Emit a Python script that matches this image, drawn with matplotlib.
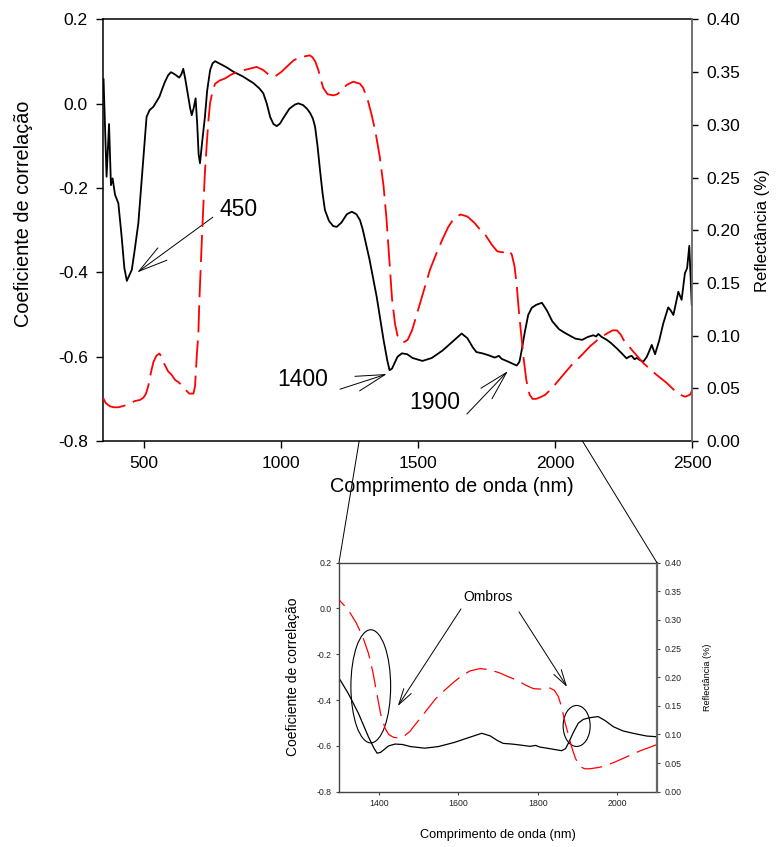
import matplotlib
matplotlib.use('Agg')
import matplotlib.pyplot as plt
from matplotlib.patches import Ellipse, ConnectionPatch
from matplotlib.ticker import FormatStrFormatter

plt.rcParams['font.family'] = ['Liberation Sans', 'DejaVu Sans']
plt.rcParams['axes.unicode_minus'] = False

# correlation coefficient (left axis)
wl_corr = [352, 363, 372, 379, 385, 394, 406, 418, 428, 437, 455, 465, 479, 495, 509, 520,
           534, 556, 566, 576, 588, 598, 612, 628, 636, 643, 650, 661, 668, 674, 681, 688,
           694, 699, 704, 712, 722, 730, 741, 750, 759, 800, 826, 860, 899, 920, 935, 948,
           960, 972, 984, 996, 1008, 1030, 1050, 1063, 1080, 1095, 1106, 1116, 1124, 1133,
           1142, 1151, 1160, 1175, 1190, 1203, 1220, 1240, 1258, 1275, 1288, 1298, 1323,
           1349, 1374, 1388, 1396, 1405, 1412, 1425, 1441, 1460, 1480, 1516, 1550, 1590,
           1630, 1659, 1680, 1700, 1713, 1735, 1755, 1780, 1795, 1805, 1830, 1860, 1870,
           1877, 1890, 1902, 1915, 1931, 1952, 1970, 1990, 2015, 2040, 2074, 2099, 2120,
           2140, 2150, 2158, 2170, 2189, 2205, 2225, 2245, 2261, 2270, 2280, 2290, 2298,
           2310, 2322, 2335, 2345, 2353, 2365, 2380, 2395, 2405, 2413, 2422, 2432, 2442,
           2450, 2462, 2474, 2482, 2490, 2499]
corr = [0.058, -0.173, -0.048, -0.193, -0.177, -0.216, -0.236, -0.315, -0.390, -0.420,
        -0.394, -0.350, -0.283, -0.150, -0.031, -0.015, -0.007, 0.017, 0.035, 0.052, 0.068,
        0.075, 0.070, 0.062, 0.070, 0.083, 0.060, 0.017, -0.010, -0.027, -0.010, 0.013,
        -0.050, -0.120, -0.141, -0.090, -0.031, 0.030, 0.080, 0.096, 0.101, 0.087, 0.076,
        0.065, 0.049, 0.037, 0.025, 0.000, -0.031, -0.048, -0.053, -0.047, -0.034, -0.012,
        -0.002, 0.001, -0.003, -0.012, -0.022, -0.035, -0.054, -0.100, -0.157, -0.210,
        -0.252, -0.278, -0.290, -0.292, -0.282, -0.262, -0.256, -0.262, -0.276, -0.298,
        -0.370, -0.458, -0.560, -0.610, -0.632, -0.628, -0.618, -0.600, -0.592, -0.594,
        -0.603, -0.610, -0.603, -0.585, -0.562, -0.545, -0.556, -0.578, -0.589, -0.592,
        -0.596, -0.602, -0.598, -0.605, -0.612, -0.621, -0.612, -0.589, -0.540, -0.501,
        -0.484, -0.477, -0.472, -0.490, -0.516, -0.535, -0.545, -0.557, -0.560, -0.553,
        -0.549, -0.552, -0.546, -0.553, -0.560, -0.568, -0.580, -0.593, -0.604, -0.600,
        -0.598, -0.606, -0.603, -0.608, -0.612, -0.600, -0.585, -0.572, -0.594, -0.562,
        -0.521, -0.500, -0.483, -0.490, -0.501, -0.470, -0.446, -0.465, -0.402, -0.390,
        -0.337, -0.477]

# reflectance (right axis)
wl_refl = [350, 360, 375, 390, 406, 420, 434, 450, 467, 485, 497, 507, 515, 525, 534, 545,
           556, 563, 570, 588, 600, 613, 625, 637, 650, 665, 680, 686, 692, 698, 702, 709,
           716, 722, 729, 735, 741, 750, 759, 775, 795, 820, 850, 880, 911, 935, 953, 965,
           978, 1000, 1020, 1045, 1065, 1087, 1105, 1115, 1125, 1136, 1145, 1154, 1170,
           1191, 1205, 1221, 1240, 1264, 1288, 1300, 1318, 1330, 1344, 1360, 1374, 1385,
           1395, 1405, 1416, 1425, 1437, 1450, 1462, 1478, 1495, 1520, 1544, 1567, 1590,
           1610, 1630, 1655, 1680, 1706, 1725, 1747, 1770, 1789, 1810, 1831, 1842, 1852,
           1860, 1869, 1877, 1885, 1895, 1907, 1918, 1931, 1950, 1965, 1995, 2024, 2060,
           2099, 2128, 2160, 2189, 2210, 2226, 2240, 2250, 2285, 2322, 2365, 2408, 2440,
           2456, 2475, 2493, 2500]
refl = [0.041, 0.036, 0.033, 0.032, 0.032, 0.033, 0.034, 0.036, 0.038, 0.039, 0.041, 0.045,
        0.052, 0.065, 0.075, 0.081, 0.083, 0.080, 0.075, 0.066, 0.063, 0.058, 0.056, 0.053,
        0.049, 0.045, 0.045, 0.052, 0.080, 0.102, 0.135, 0.180, 0.222, 0.255, 0.283, 0.305,
        0.321, 0.332, 0.339, 0.342, 0.344, 0.348, 0.351, 0.353, 0.355, 0.352, 0.348, 0.346,
        0.346, 0.350, 0.355, 0.361, 0.364, 0.365, 0.366, 0.364, 0.360, 0.352, 0.343, 0.335,
        0.329, 0.328, 0.329, 0.333, 0.338, 0.341, 0.339, 0.335, 0.322, 0.310, 0.294, 0.270,
        0.242, 0.210, 0.172, 0.135, 0.111, 0.100, 0.095, 0.094, 0.096, 0.105, 0.120, 0.142,
        0.163, 0.178, 0.192, 0.203, 0.211, 0.215, 0.213, 0.207, 0.201, 0.195, 0.186, 0.180,
        0.179, 0.181, 0.177, 0.166, 0.148, 0.120, 0.100, 0.079, 0.058, 0.044, 0.040, 0.040,
        0.042, 0.044, 0.052, 0.061, 0.072, 0.082, 0.090, 0.097, 0.102, 0.105, 0.105, 0.101,
        0.096, 0.085, 0.074, 0.064, 0.055, 0.047, 0.044, 0.042, 0.044, 0.048]

xticks_main = [500, 1000, 1500, 2000, 2500]
xticks_inset = [1400, 1600, 1800, 2000]
corr_ticks = [-0.8, -0.6, -0.4, -0.2, 0.0, 0.2]
refl_ticks = [0.0, 0.05, 0.10, 0.15, 0.20, 0.25, 0.30, 0.35, 0.40]

fig = plt.figure(figsize=(7.78, 8.47), dpi=100)

# ---- main plot
ax = fig.add_axes([0.1324, 0.4793, 0.7571, 0.4977])
ax.plot(wl_corr, corr, color='black', lw=1.3)
ax.set_xlim(350, 2500)
ax.set_ylim(-0.8, 0.2)
ax.set_xticks(xticks_main)
ax.set_yticks(corr_ticks)
ax.yaxis.set_major_formatter(FormatStrFormatter('%.1f'))
ax.tick_params(direction='out', length=5, width=1, labelsize=12.5, pad=6)
for s in ['left', 'bottom', 'top']:
    ax.spines[s].set_linewidth(1.1)
ax.spines['right'].set_visible(False)
ax.set_xlabel('Comprimento de onda (nm)', fontsize=14.3)
ax.set_ylabel('Coeficiente de correlação', fontsize=14.3)
ax.xaxis.set_label_coords(0.592, -0.107)
ax.xaxis.label.set_va('center')
ax.yaxis.set_label_coords(-0.135, 0.54)
ax.yaxis.label.set_va('center')

ax2 = ax.twinx()
ax2.plot(wl_refl, refl, color='red', lw=1.3, dashes=(15, 4.5))
ax2.set_ylim(0, 0.4)
ax2.set_yticks(refl_ticks)
ax2.yaxis.set_major_formatter(FormatStrFormatter('%.2f'))
ax2.tick_params(direction='out', length=4, width=1, labelsize=12.5, pad=6, colors='black')
for s in ['left', 'bottom', 'top']:
    ax2.spines[s].set_visible(False)
ax2.spines['right'].set_color('#666666')
ax2.spines['right'].set_linewidth(1.3)
ax2.set_ylabel('Reflectância (%)', fontsize=12)
ax2.yaxis.set_label_coords(1.12, 0.5)
ax2.yaxis.label.set_va('center')

arrow_big = dict(arrowstyle='->,head_length=2.1,head_width=0.55', lw=0.7, color='black',
                 shrinkA=0, shrinkB=0)
ax.annotate('', xy=(475, -0.40), xytext=(751, -0.269), arrowprops=arrow_big)
ax.annotate('', xy=(1386, -0.641), xytext=(1215, -0.677), arrowprops=arrow_big)
ax.annotate('', xy=(1828, -0.634), xytext=(1678, -0.736), arrowprops=arrow_big)
ax.text(843, -0.25, '450', fontsize=16.5, ha='center', va='center')
ax.text(1080, -0.655, '1400', fontsize=16.5, ha='center', va='center')
ax.text(1562, -0.7075, '1900', fontsize=16.5, ha='center', va='center')

# ---- inset zoom
axi = fig.add_axes([0.4357, 0.0653, 0.4087, 0.2704])
axi.plot(wl_corr, corr, color='black', lw=0.9)
axi.set_xlim(1300, 2100)
axi.set_ylim(-0.8, 0.2)
axi.set_xticks(xticks_inset)
axi.set_yticks(corr_ticks)
axi.yaxis.set_major_formatter(FormatStrFormatter('%.1f'))
axi.tick_params(direction='out', length=2.5, width=0.8, labelsize=6.3, pad=3,
                colors='#444444', labelcolor='#222222')
for s in ['left', 'bottom', 'top']:
    axi.spines[s].set_color('#444444')
    axi.spines[s].set_linewidth(1.0)
axi.spines['right'].set_visible(False)
axi.set_xlabel('Comprimento de onda (nm)', fontsize=9.2)
axi.set_ylabel('Coeficiente de correlação', fontsize=10)
axi.xaxis.set_label_coords(0.5, -0.189)
axi.xaxis.label.set_va('center')
axi.yaxis.set_label_coords(-0.145, 0.5)
axi.yaxis.label.set_va('center')

axi2 = axi.twinx()
axi2.plot(wl_refl, refl, color='red', lw=0.9, dashes=(17, 6.5))
axi2.set_ylim(0, 0.4)
axi2.set_yticks(refl_ticks)
axi2.yaxis.set_major_formatter(FormatStrFormatter('%.2f'))
axi2.tick_params(direction='out', length=2.5, width=0.8, labelsize=6.3, pad=3,
                 colors='#444444', labelcolor='#222222')
for s in ['left', 'bottom', 'top']:
    axi2.spines[s].set_visible(False)
axi2.spines['right'].set_color('#666666')
axi2.spines['right'].set_linewidth(1.6)
axi2.set_ylabel('Reflectância (%)', fontsize=6.6)
axi2.yaxis.set_label_coords(1.158, 0.5)
axi2.yaxis.label.set_va('center')

axi.add_patch(Ellipse((1380, -0.34), 100, 0.494, fill=False, ec='black', lw=0.8))
axi.add_patch(Ellipse((1898, -0.513), 68, 0.179, fill=False, ec='black', lw=0.8))

arrow_small = dict(arrowstyle='->,head_length=1.15,head_width=0.32', lw=0.7, color='black',
                   shrinkA=0, shrinkB=0)
axi.annotate('', xy=(1448, -0.426), xytext=(1607, -0.002), arrowprops=arrow_small)
axi.annotate('', xy=(1874, -0.343), xytext=(1753, -0.015), arrowprops=arrow_small)
axi.text(1675, 0.05, 'Ombros', fontsize=10, ha='center', va='center')

# lines linking zoomed range to inset
for xa, xb in [(1285, 0), (2100, 1)]:
    con = ConnectionPatch(xyA=(xa, 0), coordsA=ax.get_xaxis_transform(),
                          xyB=(xb, 1), coordsB=axi.transAxes, color='black', lw=0.7)
    fig.add_artist(con)

fig.savefig('out.png', dpi=100)
